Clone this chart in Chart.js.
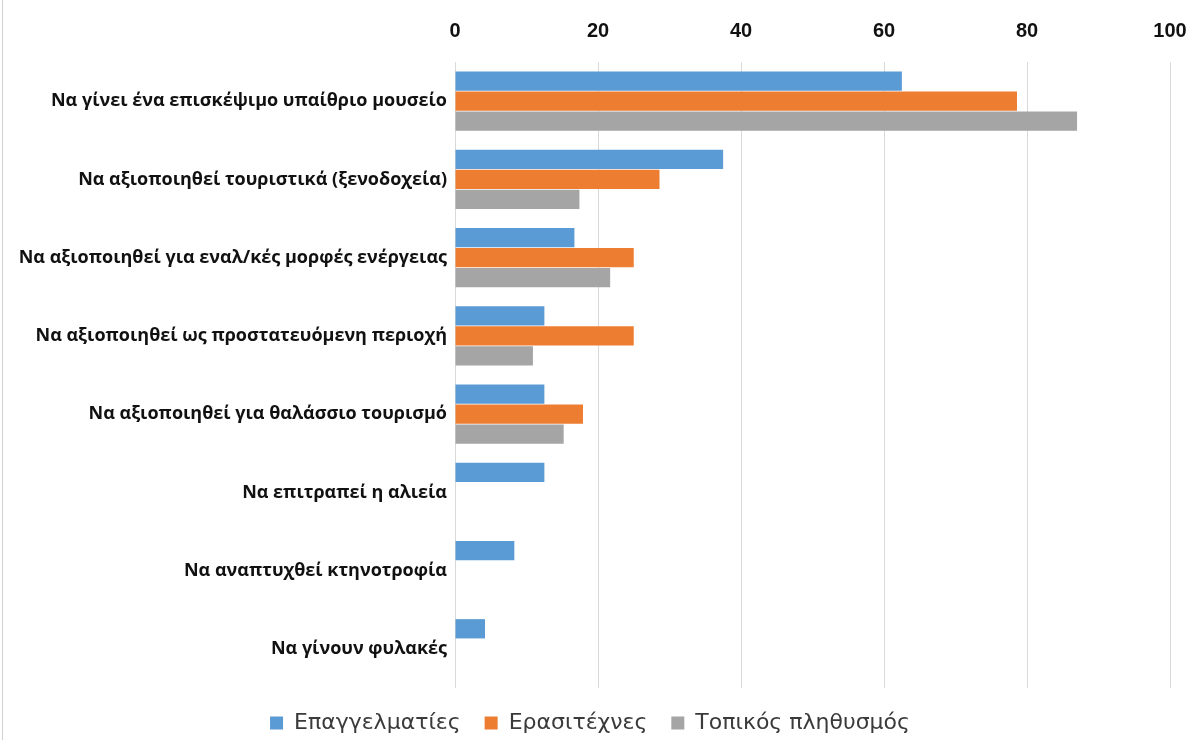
<!DOCTYPE html>
<html>
<head>
<meta charset="utf-8">
<script src="https://cdn.jsdelivr.net/npm/chart.js@4.4.0/dist/chart.umd.min.js"></script>
<style>
  html, body { margin: 0; padding: 0; background: #fff; }
  #wrap { position: relative; width: 1196px; height: 740px; }
  #edge { position: absolute; left: 2px; top: 0; width: 1px; height: 740px; background: #d0d0d0; }
</style>
</head>
<body>
<div id="wrap">
  <canvas id="proposalChart" width="1196" height="740"></canvas>
  <div id="edge"></div>
</div>
<script>
// categories (proposals) and the share of each group, in %
const categories = [
    'Να γίνει ένα επισκέψιμο υπαίθριο μουσείο',
    'Να αξιοποιηθεί τουριστικά (ξενοδοχεία)',
    'Να αξιοποιηθεί για εναλ/κές μορφές ενέργειας',
    'Να αξιοποιηθεί ως προστατευόμενη περιοχή',
    'Να αξιοποιηθεί για θαλάσσιο τουρισμό',
    'Να επιτραπεί η αλιεία',
    'Να αναπτυχθεί κτηνοτροφία',
    'Να γίνουν φυλακές'
];
const professionals = [62.5, 37.5, 16.7, 12.5, 12.5, 12.5, 8.3, 4.2];
const amateurs = [78.6, 28.6, 25.0, 25.0, 17.9, null, null, null];
const locals = [87.0, 17.4, 21.7, 10.9, 15.2, null, null, null];
const seriesNames = ['Επαγγελματίες', 'Ερασιτέχνες', 'Τοπικός πληθυσμός'];
const xTicks = [0, 20, 40, 60, 80, 100];

const colors = ['#5b9bd5', '#ed7d31', '#a5a5a5'];

const ctx = document.getElementById('proposalChart').getContext('2d');

const proposalChart = new Chart(ctx, {
    type: 'bar',
    data: {
        labels: categories,
        datasets: [professionals, amateurs, locals].map((values, i) => ({
            label: seriesNames[i],
            data: values,
            backgroundColor: colors[i],
            borderWidth: 0,
            categoryPercentage: 0.77,
            barPercentage: 0.96
        }))
    },
    options: {
        indexAxis: 'y',
        responsive: false,
        animation: false,
        layout: { padding: { left: 10, right: 26, top: 0, bottom: -4 } },
        scales: {
            x: {
                position: 'top',
                min: 0,
                max: 100,
                afterBuildTicks: axis => { axis.ticks = xTicks.map(v => ({ value: v })); },
                afterFit: axis => {
                    axis.height = 62;
                    axis.paddingLeft = 0;
                    axis.paddingRight = 0;
                },
                grid: { color: '#d9d9d9', drawTicks: false },
                border: { display: false },
                ticks: {
                    padding: 19,
                    color: '#111',
                    font: { family: '"Liberation Sans", Arial, sans-serif', size: 20, weight: 'bold' }
                }
            },
            y: {
                afterFit: axis => { axis.width = 445; },
                grid: { display: false, drawTicks: false },
                border: { display: false },
                ticks: {
                    padding: 8,
                    color: '#111',
                    font: { family: '"Open Sans", sans-serif', size: 18, weight: 'bold' }
                }
            }
        },
        plugins: {
            legend: {
                position: 'bottom',
                labels: {
                    boxWidth: 13,
                    boxHeight: 13,
                    padding: 24,
                    color: '#3a3a3a',
                    font: { family: '"DejaVu Sans", sans-serif', size: 22 }
                }
            },
            tooltip: { enabled: false }
        }
    }
});
</script>
</body>
</html>
